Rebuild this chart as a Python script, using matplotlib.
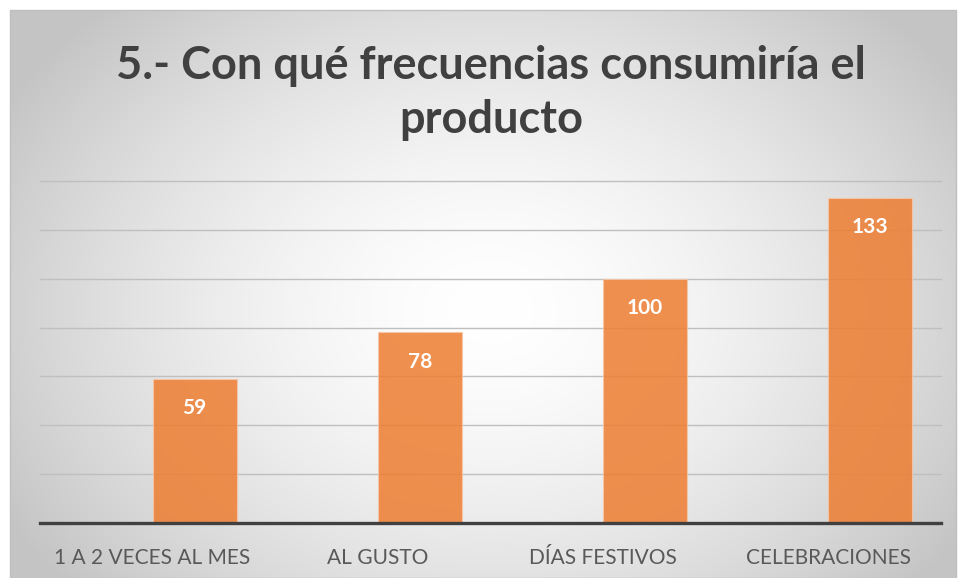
import numpy as np
import matplotlib
matplotlib.use("Agg")
import matplotlib.pyplot as plt
from matplotlib.patches import Rectangle

categories = ["1 A 2 VECES AL MES", "AL GUSTO", "DÍAS FESTIVOS", "CELEBRACIONES"]
values = [59, 78, 100, 133]
title = "5.- Con qué frecuencias consumiría el\nproducto"

plt.rcParams['font.family'] = ['Lato', 'DejaVu Sans']

W, H = 960, 578
fig = plt.figure(figsize=(W / 100, H / 100), dpi=100)
fig.patch.set_facecolor('white')

# background radial gradient
bg = fig.add_axes([10 / W, 0, 946 / W, (H - 10) / H], zorder=0)
yy, xx = np.mgrid[0:568, 0:946]
cx, cy = 480, 300
r = np.sqrt(((xx - cx) / 560.0) ** 2 + ((yy - cy) / 420.0) ** 2)
r = np.clip(r, 0, 1)
v = 1.0 - 0.23 * r ** 1.6
img = np.dstack([v, v, v])
bg.imshow(img, aspect='auto', extent=[0, 1, 0, 1], origin='upper')
bg.set_xlim(0, 1); bg.set_ylim(0, 1)
bg.axis('off')
bg.add_patch(Rectangle((0, 0), 1, 1, transform=bg.transAxes, fill=False,
                       edgecolor='#bfbfbf', linewidth=1.0, clip_on=False))

ax = fig.add_axes([40 / W, 55 / H, 901 / W, 342 / H], zorder=1)
ax.patch.set_alpha(0)
x = np.arange(len(categories))
bw = 0.373
bars = ax.bar(x, values, width=bw, align='edge', color='#ED7D31', alpha=0.85,
              edgecolor='#f6c8a8', linewidth=0.8, zorder=2)
ax.set_xlim(-0.5, len(categories) - 0.5)
ax.set_ylim(0, 140)
ax.set_yticks(np.arange(0, 141, 20))
ax.yaxis.grid(True, color='#bfbfbf', linewidth=1.0, zorder=1)
for gl in ax.get_ygridlines():
    gl.set_clip_on(False)
ax.set_axisbelow(True)
ax.tick_params(axis='y', length=0, labelleft=False)
ax.tick_params(axis='x', length=0, pad=18, labelsize=15, labelcolor='#595959')
ax.set_xticks(x)
ax.set_xticklabels(categories)
for s in ['top', 'right', 'left']:
    ax.spines[s].set_visible(False)
ax.spines['bottom'].set_color('#404040')
ax.spines['bottom'].set_linewidth(2.4)
ax.spines['bottom'].set_zorder(3)

for xi, v_ in zip(x, values):
    ax.annotate(str(v_), (xi + bw / 2, v_), xytext=(0, -21), textcoords='offset points',
                ha='center', va='center', color='white', fontsize=15,
                fontweight='bold', zorder=4)

fig.text(491 / W, 1 - 93 / H, title, ha='center', va='center', fontsize=32.5,
         fontweight='bold', color='#404040', linespacing=1.34, zorder=5)

fig.savefig('out.png', dpi=100)
